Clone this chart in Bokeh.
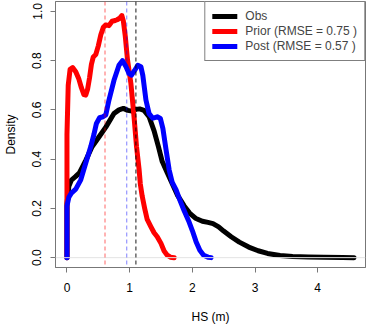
from bokeh.plotting import figure
from bokeh.models import Range1d, FixedTicker, Span, Legend, LegendItem
from bokeh.embed import file_html
from bokeh.resources import INLINE

# ---- data ----
obs_x = [0.0, 0.0, 0.03, 0.07, 0.14, 0.20, 0.30, 0.40, 0.51, 0.62, 0.75, 0.83, 0.90, 0.97,
         1.04, 1.10, 1.16, 1.23, 1.31, 1.39, 1.46, 1.52, 1.60, 1.68, 1.76, 1.87, 1.96, 2.05,
         2.16, 2.25, 2.33, 2.42, 2.50, 2.62, 2.75, 2.90, 3.05, 3.20, 3.40, 3.60, 3.85, 4.10,
         4.40, 4.58]
obs_y = [0.0, 0.22, 0.29, 0.315, 0.33, 0.345, 0.395, 0.45, 0.49, 0.53, 0.585, 0.60, 0.606,
         0.598, 0.595, 0.602, 0.604, 0.598, 0.572, 0.515, 0.45, 0.39, 0.345, 0.30, 0.255,
         0.21, 0.18, 0.16, 0.148, 0.143, 0.138, 0.125, 0.108, 0.085, 0.063, 0.043, 0.028,
         0.017, 0.009, 0.005, 0.003, 0.002, 0.001, 0.0]

prior_x = [0.0, 0.0, 0.02, 0.05, 0.09, 0.14, 0.19, 0.23, 0.27, 0.30, 0.33, 0.36, 0.39, 0.42,
           0.46, 0.50, 0.54, 0.58, 0.62, 0.67, 0.72, 0.77, 0.80, 0.84, 0.875, 0.90, 0.93,
           0.965, 1.02, 1.07, 1.11, 1.15, 1.17, 1.20, 1.24, 1.28, 1.34, 1.39, 1.44, 1.50,
           1.55, 1.60, 1.65, 1.71]
prior_y = [0.0, 0.5, 0.70, 0.765, 0.772, 0.755, 0.725, 0.69, 0.662, 0.66, 0.685, 0.73, 0.785,
           0.815, 0.825, 0.86, 0.905, 0.935, 0.945, 0.942, 0.96, 0.963, 0.966, 0.972, 0.983,
           0.96, 0.90, 0.805, 0.707, 0.572, 0.45, 0.36, 0.30, 0.25, 0.20, 0.155, 0.125,
           0.101, 0.085, 0.058, 0.027, 0.01, 0.002, 0.0]

post_x = [0.0, 0.0, 0.03, 0.07, 0.14, 0.22, 0.30, 0.38, 0.43, 0.47, 0.52, 0.57, 0.62, 0.67,
          0.75, 0.83, 0.885, 0.94, 0.99, 1.03, 1.08, 1.13, 1.18, 1.21, 1.26, 1.31, 1.37,
          1.44, 1.49, 1.53, 1.58, 1.63, 1.68, 1.74, 1.80, 1.87, 1.94, 2.00, 2.06, 2.12,
          2.18, 2.25, 2.30]
post_y = [0.0, 0.21, 0.245, 0.262, 0.278, 0.316, 0.384, 0.451, 0.50, 0.545, 0.568, 0.572,
          0.58, 0.64, 0.72, 0.781, 0.80, 0.776, 0.748, 0.741, 0.76, 0.781, 0.775, 0.74,
          0.64, 0.585, 0.566, 0.572, 0.565, 0.525, 0.44, 0.357, 0.305, 0.276, 0.235, 0.19,
          0.15, 0.11, 0.065, 0.03, 0.01, 0.002, 0.0]

mean_obs = 1.10
mean_prior = 0.607
mean_post = 0.954

labels = ["Obs", "Prior (RMSE = 0.75 )", "Post (RMSE = 0.57 )"]
x_ticks = [0, 1, 2, 3, 4]
y_ticks = [0.0, 0.2, 0.4, 0.6, 0.8, 1.0]
y_tick_labels = ["0.0", "0.2", "0.4", "0.6", "0.8", "1.0"]

FONT = "Liberation Sans"
BORDER = "#777777"

p = figure(width=367, height=326, output_backend="svg", toolbar_location=None,
           x_range=Range1d(-0.183, 4.763), y_range=Range1d(-0.04, 1.04),
           min_border_left=55, min_border_right=2, min_border_top=1, min_border_bottom=58)
p.grid.visible = False
p.outline_line_color = BORDER
p.outline_line_width = 1
p.background_fill_color = "white"
p.border_fill_color = "white"

# zero line
p.add_layout(Span(location=0, dimension="width", line_color="#e4e4e4", line_width=1))

# mean lines
p.add_layout(Span(location=mean_prior, dimension="height", line_color="red", line_alpha=0.6,
                  line_width=1, line_dash="4 3"))
p.add_layout(Span(location=mean_post, dimension="height", line_color="blue", line_alpha=0.5,
                  line_width=1, line_dash="4 3"))
p.add_layout(Span(location=mean_obs, dimension="height", line_color="black", line_alpha=0.9,
                  line_width=1, line_dash="4 3"))

r_obs = p.line(obs_x, obs_y, line_color="black", line_width=5, line_cap="round", line_join="round")
r_prior = p.line(prior_x, prior_y, line_color="red", line_width=5, line_cap="round", line_join="round")
r_post = p.line(post_x, post_y, line_color="blue", line_width=5, line_cap="round", line_join="round")

legend = Legend(items=[LegendItem(label=labels[0], renderers=[r_obs]),
                       LegendItem(label=labels[1], renderers=[r_prior]),
                       LegendItem(label=labels[2], renderers=[r_post])],
                location="top_right", margin=0, padding=7, spacing=1,
                label_standoff=8, glyph_width=25, glyph_height=14, label_height=14,
                label_text_font=FONT, label_text_font_size="12px",
                border_line_color="black", border_line_width=1,
                background_fill_color="white", background_fill_alpha=1.0)
p.add_layout(legend)

# axes
for ax in (p.xaxis[0], p.yaxis[0]):
    ax.axis_line_color = BORDER
    ax.major_tick_line_color = BORDER
    ax.minor_tick_line_color = None
    ax.major_tick_in = 0
    ax.major_tick_out = 5
    ax.major_label_text_font = FONT
    ax.major_label_text_font_size = "12px"
    ax.major_label_text_color = "black"
    ax.axis_label_text_font = FONT
    ax.axis_label_text_font_size = "12px"
    ax.axis_label_text_font_style = "normal"
    ax.axis_label_text_color = "black"

p.xaxis.ticker = FixedTicker(ticks=x_ticks)
p.xaxis.major_label_standoff = 10
p.xaxis.axis_label = "HS (m)"
p.xaxis.axis_label_standoff = 15

p.yaxis.ticker = FixedTicker(ticks=y_ticks)
p.yaxis.major_label_overrides = {t: s for t, s in zip(y_ticks, y_tick_labels)}
p.yaxis.major_label_orientation = "vertical"
p.yaxis.major_label_standoff = 9
p.yaxis.axis_label = "Density"
p.yaxis.axis_label_standoff = 12

open("out.html", "w").write(file_html(p, INLINE))
